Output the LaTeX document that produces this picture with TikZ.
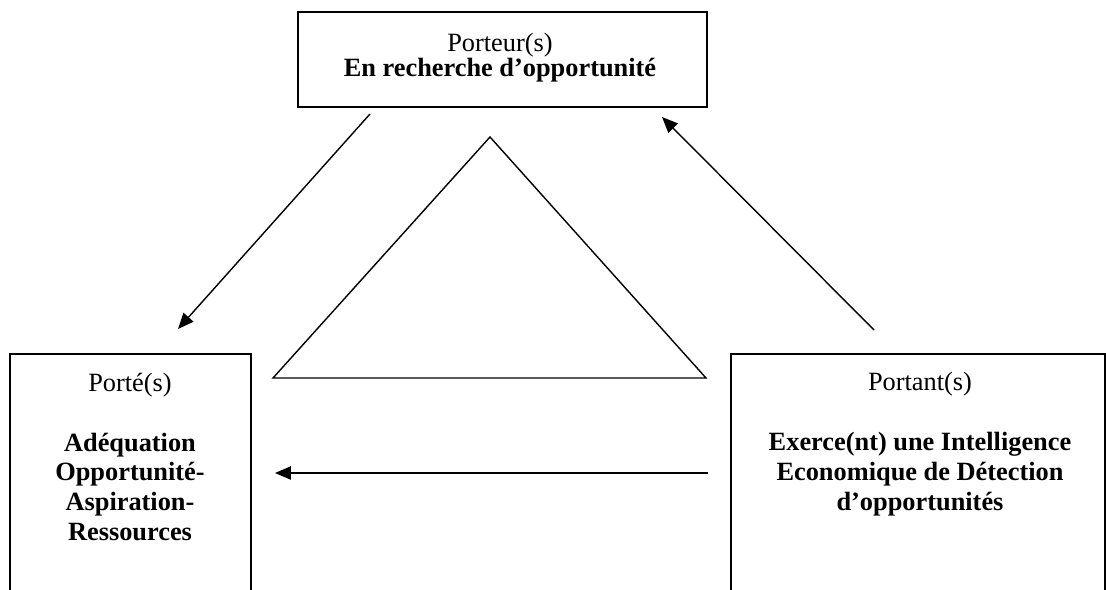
\documentclass[tikz,border=0pt]{standalone}
\usepackage{fontspec}
\setmainfont{Liberation Serif}
\usetikzlibrary{arrows.meta,positioning}

\begin{document}
\begin{tikzpicture}[%
  x=0.02cm, y=-0.02cm,
  cadre/.style={draw, line width=1.1pt, inner sep=0pt},
  texte/.style={align=center, inner sep=0pt, font=\fontsize{15}{17}\selectfont},
  fleche/.style={line width=0.8pt, -{Triangle[length=9pt, width=7.5pt]}}]
\path[use as bounding box, clip] (0,0) rectangle (1106,590);

\node[cadre, minimum width=8.18cm, minimum height=1.9cm] (porteur) at (502.5,59.5) {};
\node[cadre, minimum width=4.82cm, minimum height=5.2cm, anchor=north west] (porte) at (9,353) {};
\node[cadre, minimum width=7.48cm, minimum height=5.2cm, anchor=north west] (portant) at (730,353) {};

\node[texte] (porteurtxt) at (500,58) {Porteur(s)\\[-2.8pt]\textbf{En recherche d’opportunité}};
\node[texte] (portetxt) at (130,457) {Porté(s)\\[17pt]
	\textbf{Adéquation}\\
	\textbf{Opportunité-}\\
	\textbf{Aspiration-}\\
	\textbf{Ressources}};
\node[texte] (portanttxt) at (920,444) {Portant(s)\\[17pt]
	\textbf{Exerce(nt) une Intelligence}\\
	\textbf{Economique de Détection}\\
	\textbf{d’opportunités}};

\coordinate (sommet) at (490,137);
\coordinate (basegauche) at (273,378);
\coordinate (basedroite) at (706,378);
\draw[line width=0.8pt] (sommet) -- (basegauche) -- (basedroite) -- cycle;

\coordinate (depart1) at (370,114);
\coordinate (arrivee1) at (178,329);
\coordinate (depart2) at (874,330);
\coordinate (arrivee2) at (662,117);
\coordinate (depart3) at (708,473);
\coordinate (arrivee3) at (275,473);
\draw[fleche] (depart1) -- (arrivee1);
\draw[fleche] (depart2) -- (arrivee2);
\draw[fleche] (depart3) -- (arrivee3);
\end{tikzpicture}
\end{document}
